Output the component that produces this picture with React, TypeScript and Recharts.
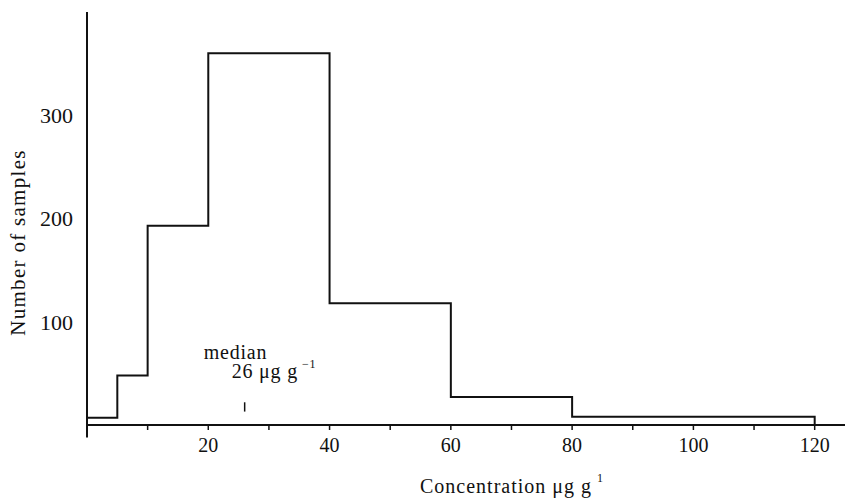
import { LineChart, Line, XAxis, YAxis, ReferenceLine, ReferenceDot } from 'recharts'

// histogram bins: left edges (last entry closes the final bin), counts per bin
const binEdges = [0, 5, 10, 20, 40, 60, 80, 120]
const counts = [7, 48, 193, 360, 118, 27, 8]
const xTicks = [0, 10, 20, 30, 40, 50, 60, 70, 80, 90, 100, 110, 120]
const yTicks = [100, 200, 300]
const median = 26

const data = binEdges.map((x, i) => ({ x, n: i < counts.length ? counts[i] : 0 }))

const font = '"Liberation Serif", "Times New Roman", serif'
const ink = '#111'

function MedianLabel({ viewBox }: any) {
  const { x, y } = viewBox
  return (
    <g fontFamily={font} fontSize={20} fill={ink} letterSpacing={0.8}>
      <text x={x - 41} y={y - 43}>median</text>
      <text x={x - 13} y={y - 24}>
        26 μg g<tspan dx={4} dy={-10} fontSize={12}>−1</tspan>
      </text>
    </g>
  )
}

function XLabel({ viewBox }: any) {
  const { x, y } = viewBox
  return (
    <text x={x + 333} y={y + 68} fontFamily={font} fontSize={20} fill={ink} letterSpacing={1}>
      Concentration μg g<tspan dx={5} dy={-11} fontSize={12}>1</tspan>
    </text>
  )
}

function YLabel({ viewBox }: any) {
  const { x, y, height } = viewBox
  const cx = x + 18
  const cy = y + height / 2 + 24
  return (
    <text
      x={cx}
      y={cy}
      transform={`rotate(-90, ${cx}, ${cy})`}
      textAnchor="middle"
      dominantBaseline="central"
      fontFamily={font}
      fontSize={21}
      fill={ink}
      letterSpacing={1.3}
    >
      Number of samples
    </text>
  )
}

export default function App() {
  return (
    <div style={{ position: 'absolute', left: 0, top: 0, background: '#fff' }}>
      <LineChart width={847} height={499} data={data} margin={{ top: 12, right: 2, bottom: 0, left: 0 }}>
        <XAxis
          dataKey="x"
          type="number"
          domain={[0, 125]}
          ticks={xTicks}
          interval={0}
          tickFormatter={(v: number) => (v > 0 && v % 20 === 0 ? String(v) : '')}
          height={74}
          axisLine={{ stroke: ink, strokeWidth: 2 }}
          tickLine={{ stroke: ink, strokeWidth: 1.5 }}
          tickSize={5}
          tickMargin={8}
          tick={{ fill: ink, fontSize: 20, fontFamily: font }}
          label={{ content: XLabel }}
        />
        <YAxis
          domain={[0, 400]}
          ticks={yTicks}
          width={87}
          axisLine={{ stroke: ink, strokeWidth: 2 }}
          tickLine={false}
          tickSize={0}
          tickMargin={14}
          tick={{ fill: ink, fontSize: 22, fontFamily: font }}
          label={{ content: YLabel }}
        />
        <ReferenceLine
          segment={[{ x: 0, y: 0 }, { x: 0, y: -12 }]}
          ifOverflow="visible"
          stroke={ink}
          strokeWidth={2}
        />
        <ReferenceLine
          segment={[{ x: median, y: 13 }, { x: median, y: 22 }]}
          stroke={ink}
          strokeWidth={1.5}
        />
        <ReferenceDot x={median} y={22} r={0} fill="none" stroke="none" label={{ content: MedianLabel }} />
        <Line
          type="stepAfter"
          dataKey="n"
          stroke={ink}
          strokeWidth={2}
          dot={false}
          isAnimationActive={false}
        />
      </LineChart>
    </div>
  )
}
